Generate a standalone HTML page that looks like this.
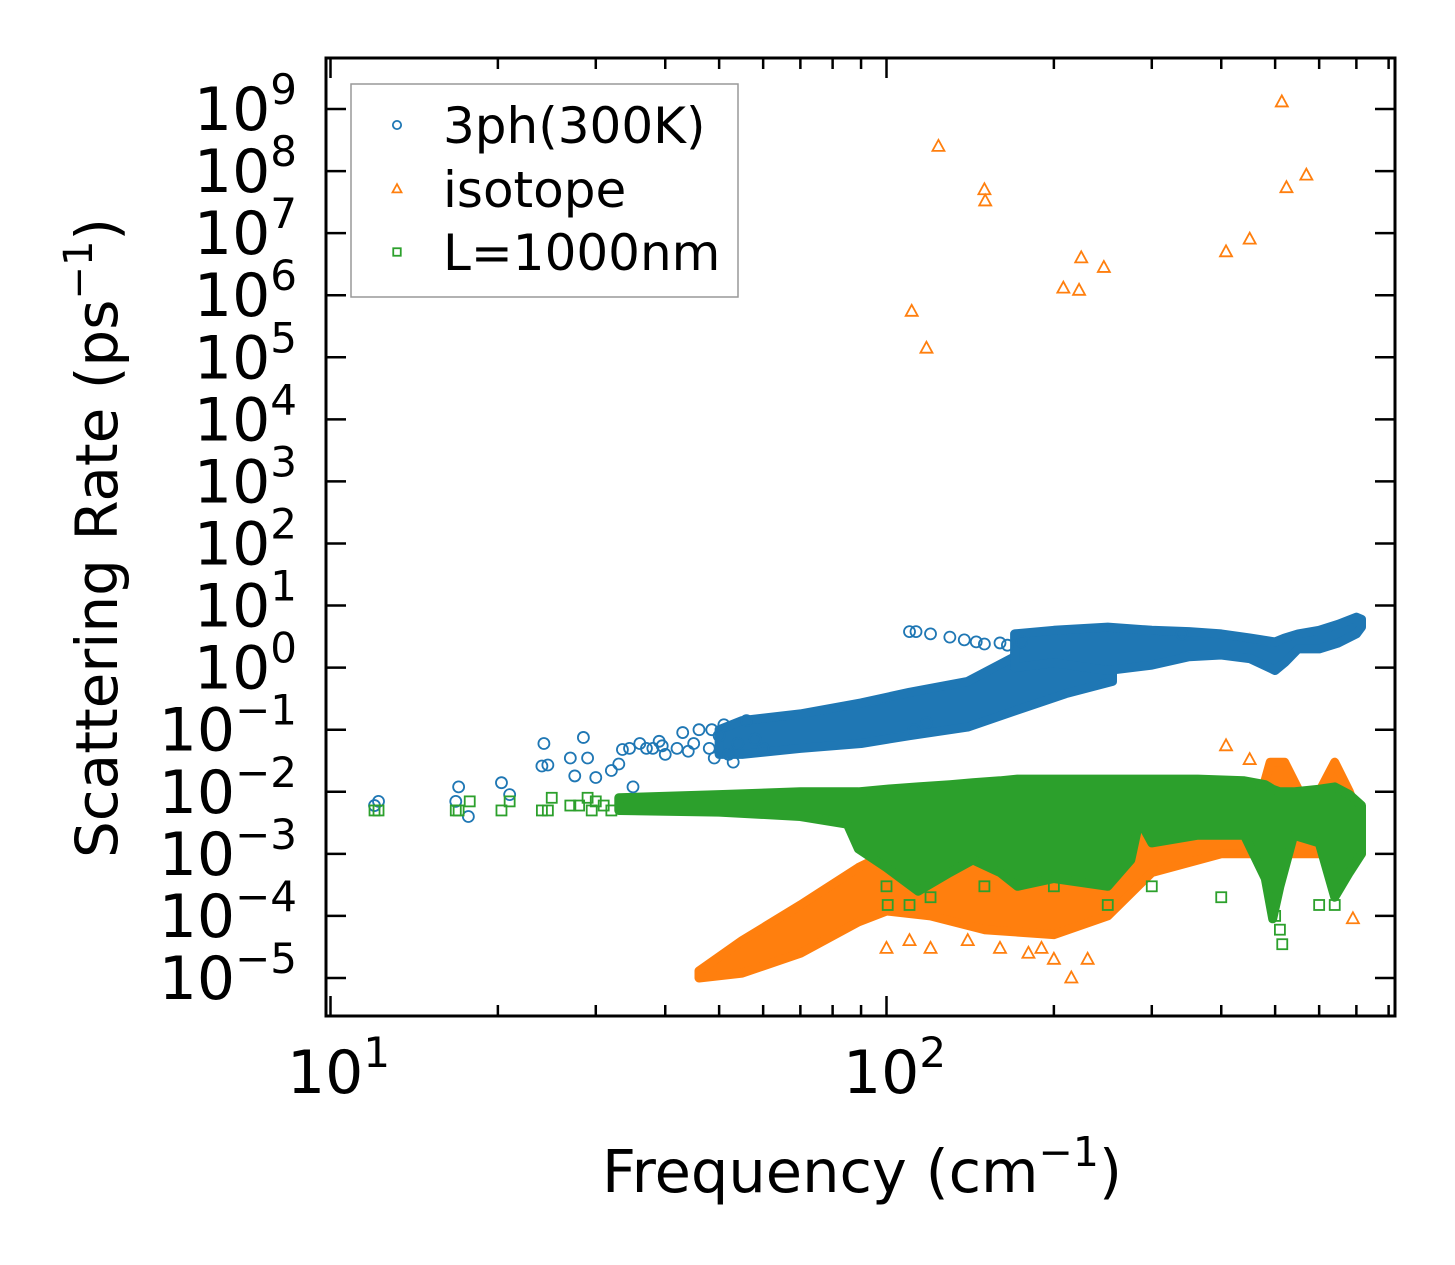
<!DOCTYPE html>
<html><head><meta charset="utf-8"><style>
html,body{margin:0;padding:0;background:#fff;}
svg{display:block;font-family:"DejaVu Sans","Liberation Sans",sans-serif;}
</style></head><body>
<svg id="chart" width="1455" height="1265" viewBox="0 0 1455 1265" xmlns="http://www.w3.org/2000/svg">
<rect width="1455" height="1265" fill="#fff"/>
<g id="bands"></g><g id="marks"></g><g id="axes"></g><g id="legend"></g>
</svg>
<script>
// ---- data ----
const ph3Freq = [12,12.2,16.8,17,17.7,20.3,21,24,24.2,24.6,27,27.5,28.5,29,30,32,33,33.5,34.5,35,36,37,38,39,39.5,40,42,43,44,45,46,48,48.5,49,50,51,52,53,54,56,58,60,110,113,120,130,138,145,150,160,165,175,340,112,118];
const ph3Rate = [0.006,0.007,0.007,0.012,0.004,0.014,0.009,0.026,0.06,0.027,0.035,0.018,0.075,0.035,0.017,0.022,0.028,0.048,0.05,0.012,0.06,0.05,0.05,0.065,0.055,0.04,0.05,0.09,0.045,0.06,0.1,0.05,0.1,0.035,0.08,0.12,0.04,0.03,0.06,0.14,0.07,0.05,3.8,3.8,3.5,3.1,2.8,2.6,2.4,2.5,2.3,2.6,3.5,0.1,0.13];
const ph3BandAFreq = [50,55,70,90,110,140,170,210,255];
const ph3BandAHigh = [0.1,0.14,0.18,0.27,0.4,0.6,1.5,1.6,0.9];
const ph3BandALow = [0.04,0.04,0.05,0.06,0.08,0.11,0.2,0.38,0.6];
const ph3BandBFreq = [170,200,250,300,350,400,450,500,520,550,600,650,700,715];
const ph3BandBHigh = [3.5,4,4.5,4,3.8,3.5,3,2.6,3,3.5,4,5,6.5,6];
const ph3BandBLow = [1,1.2,0.9,1.1,1.5,1.6,1.4,0.9,1.2,2.0,2.0,2.5,3.5,4.5];

const isoFreq = [111,118,124,150,150.5,208,222,224,246,408,450,514,524,569,690,408,450,215,200,100,110,120,140,160,180,190,230];
const isoRate = [5.5e5,1.4e5,2.5e8,5e7,3.3e7,1.3e6,1.2e6,4e6,2.8e6,5e6,8e6,1.3e9,5.4e7,8.6e7,9e-5,0.055,0.033,1e-5,2e-5,3e-5,4e-5,3e-5,4e-5,3e-5,2.5e-5,3e-5,2e-5];
const isoBandFreq = [46,55,70,89,100,120,150,200,250,300,400,470,490,520,560,600,640,680,715];
const isoBandHigh = [1.3e-5,4e-5,1.5e-4,6e-4,1e-3,2e-3,3e-3,3e-3,3e-3,4e-3,6e-3,8e-3,0.03,0.03,0.008,0.01,0.03,0.01,0.003];
const isoBandLow = [1e-5,1.2e-5,2.5e-5,8e-5,1.2e-4,1e-4,6e-5,5e-5,1e-4,5e-4,1e-3,1e-3,1e-3,1e-3,1e-3,1e-3,1e-3,1e-3,1e-3];

const bndFreq = [12,12.2,16.8,17,17.8,20.3,21,24,24.6,25,27,28,29,29.5,30,31,32,100,100.5,110,120,150,200,250,300,400,500,510,515,600,640,650];
const bndRate = [0.005,0.005,0.005,0.005,0.007,0.005,0.007,0.005,0.005,0.008,0.006,0.006,0.008,0.005,0.007,0.006,0.005,3e-4,1.5e-4,1.5e-4,2e-4,3e-4,3e-4,1.5e-4,3e-4,2e-4,1e-4,6e-5,3.5e-5,1.5e-4,1.5e-4,8e-4];
const bndBandFreq = [33,50,70,85,89,100,114,130,143,160,172,200,250,275,285,300,363,440,480,495,510,540,600,640,680,715];
const bndBandHigh = [0.008,0.009,0.01,0.01,0.01,0.011,0.012,0.013,0.014,0.015,0.016,0.016,0.016,0.016,0.016,0.016,0.016,0.015,0.013,0.011,0.010,0.010,0.011,0.012,0.009,0.006];
const bndBandLow = [0.005,0.0047,0.004,0.003,0.0012,0.0006,0.00025,0.0005,0.0008,0.0005,0.0003,0.0004,0.0003,0.0008,0.0035,0.0015,0.002,0.002,0.0004,0.00009,0.0003,0.002,0.0015,0.0002,0.0005,0.001];

const yTickExps = [-5,-4,-3,-2,-1,0,1,2,3,4,5,6,7,8,9];
const xTickExps = [1,2];
const xMinorVals = [20,30,40,50,60,70,80,90,200,300,400,500,600,700,800];

// ---- axes ----
const L=326,R=1395,T=58,B=1016;
const X0=330.5, XD=556;
const Y0=109, YD=62.07;
function sx(v){return X0+(Math.log10(v)-1)*XD;}
function sy(v){return Y0+(9-Math.log10(v))*YD;}
const NS='http://www.w3.org/2000/svg';
function mk(tag,attrs,parent){const e=document.createElementNS(NS,tag);for(const k in attrs)e.setAttribute(k,attrs[k]);parent.appendChild(e);return e;}
const C={b:'#1f77b4',o:'#ff7f0e',g:'#2ca02c'};
const bands=document.getElementById('bands'),marks=document.getElementById('marks'),axes=document.getElementById('axes'),legend=document.getElementById('legend');

function band(fr,hi,lo,col,name){
  let pts=[];
  for(let i=0;i<fr.length;i++)pts.push(sx(fr[i]).toFixed(1)+','+sy(hi[i]).toFixed(1));
  for(let i=fr.length-1;i>=0;i--)pts.push(sx(fr[i]).toFixed(1)+','+sy(lo[i]).toFixed(1));
  const p=mk('polygon',{points:pts.join(' '),fill:col,stroke:col,'stroke-width':9,'stroke-linejoin':'round'},bands);
  
  
}
function marker(kind,x,y,col,parent,s){
  s=s||1;let e;
  if(kind==='c')e=mk('circle',{cx:x,cy:y,r:5.5*s,fill:'none',stroke:col,'stroke-width':1.8},parent);
  else if(kind==='t')e=mk('polygon',{points:`${x},${y-6.5*s} ${x-6*s},${y+4.5*s} ${x+6*s},${y+4.5*s}`,fill:'none',stroke:col,'stroke-width':1.8},parent);
  else e=mk('rect',{x:x-5*s,y:y-5*s,width:10*s,height:10*s,fill:'none',stroke:col,'stroke-width':1.8},parent);
  return e;
}
function points(fr,rt,kind,col,name){
  for(let i=0;i<fr.length;i++){
    const e=marker(kind,sx(fr[i]),sy(rt[i]),col,marks);
    
    
  }
}
band(ph3BandAFreq,ph3BandAHigh,ph3BandALow,C.b,'3ph-band-low-branch');
band(ph3BandBFreq,ph3BandBHigh,ph3BandBLow,C.b,'3ph-band-high-branch');
band(isoBandFreq,isoBandHigh,isoBandLow,C.o,'isotope-band');
band(bndBandFreq,bndBandHigh,bndBandLow,C.g,'boundary-band');
points(ph3Freq,ph3Rate,'c',C.b,'3ph-point');
points(isoFreq,isoRate,'t',C.o,'isotope-point');
points(bndFreq,bndRate,'s',C.g,'boundary-point');

// frame
const fr=mk('rect',{x:L,y:T,width:R-L,height:B-T,fill:'none',stroke:'#000','stroke-width':3},axes);


function tline(x1,y1,x2,y2,name){const l=mk('line',{x1,y1,x2,y2,stroke:'#000','stroke-width':2.5},axes);}
function stext(x,y,base,exp,anchor,name){
  const t=mk('text',{x:x,y:y,'font-size':60,'text-anchor':anchor,fill:'#000'},axes);
  
  
  const a=mk('tspan',{},t);a.textContent=base;
  const b=mk('tspan',{'font-size':42,dy:-26},t);b.textContent=exp;
}
yTickExps.forEach(e=>{
  const y=sy(Math.pow(10,e));
  tline(L,y,L+20,y,'y-major-tick');tline(R,y,R-20,y,'y-major-tick-right');
  stext(297,y+21,'10',e<0?'\u2212'+(-e):String(e),'end','y-tick-label');
});
xTickExps.forEach(e=>{
  const x=sx(Math.pow(10,e));
  tline(x,B,x,B-20,'x-major-tick');tline(x,T,x,T+20,'x-major-tick-top');
  stext(x+8,1093,'10',String(e),'middle','x-tick-label');
});
xMinorVals.forEach(v=>{
  const x=sx(v);
  tline(x,B,x,B-11,'x-minor-tick');tline(x,T,x,T+11,'x-minor-tick-top');
});
// titles
let t=mk('text',{x:862,y:1192,'font-size':59,'text-anchor':'middle'},axes);


t.innerHTML='Frequency (cm<tspan font-size="41" dy="-26">\u22121</tspan><tspan dy="26">)</tspan>';
t=mk('text',{transform:'translate(117,538) rotate(-90)','font-size':58,'text-anchor':'middle'},axes);


t.innerHTML='Scattering Rate (ps<tspan font-size="40" dy="-25">\u22121</tspan><tspan dy="25">)</tspan>';

// legend
const lb=mk('rect',{x:351,y:84,width:387,height:213,fill:'#fff',stroke:'#999','stroke-width':1.5},legend);


[['c',C.b,'3ph(300K)',125],['t',C.o,'isotope',189],['s',C.g,'L=1000nm',252]].forEach(([k,c,lab,y])=>{
  const g=mk('g',{},legend);
  
  
  marker(k,397,y,c,g,0.75);
  const tx=mk('text',{x:443,y:y+18,'font-size':50},g);
  tx.textContent=lab;
});
</script>
</body></html>
